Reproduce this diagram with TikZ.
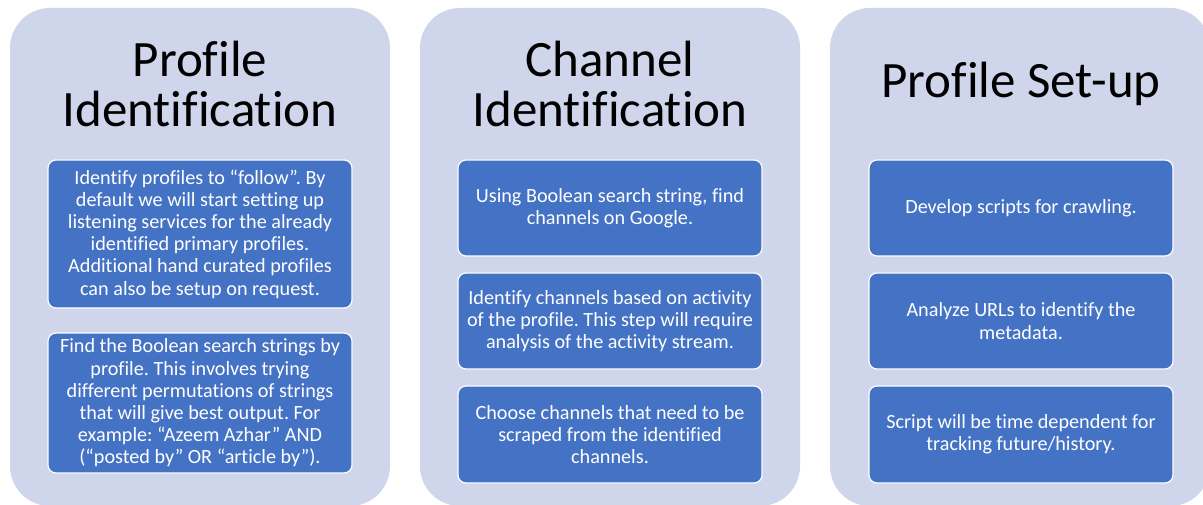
\documentclass[tikz,border=0pt]{standalone}
\usepackage{fontspec}
\setmainfont{Carlito}[Ligatures=NoCommon]
\frenchspacing
\definecolor{panelbg}{RGB}{207,213,234}
\definecolor{stepblue}{RGB}{68,114,196}

\begin{document}
\begin{tikzpicture}[x=1pt, y=-1pt,
    panel/.style={fill=panelbg, rounded corners=40pt, minimum width=380pt, minimum height=498pt, inner sep=0pt},
    heading/.style={align=center, font=\fontsize{51}{50}\selectfont, text=black},
    stepbox/.style={fill=stepblue, draw=white, line width=1.2pt, rounded corners=8pt, minimum width=304pt,
      text=white, align=center, font=\fontsize{20.2}{22.2}\selectfont, inner sep=0pt}]
  \useasboundingbox[fill=white] (0, 0) rectangle (1203, 505);

  % Panels
  \node[panel] (p1) at (200, 257) {};
  \node[panel] (p2) at (610, 257) {};
  \node[panel] (p3) at (1020, 257) {};

  % Headings
  \node[heading] (t1) at (200, 84) {Profile\\Identification};
  \node[heading] (t2) at (610, 84) {Channel\\Identification};
  \node[heading] (t3) at (1021, 84) {Profile Set-up};

  % Profile identification steps
  \node[stepbox, minimum height=148pt] (a1) at (200, 234)
    {Identify profiles to “follow”. By\\default we will start setting up\\listening services for the already\\identified primary profiles.\\Additional hand curated profiles\\can also be setup on request.};
  \node[stepbox, minimum height=140pt] (a2) at (200, 403)
    {Find the Boolean search strings by\\profile. This involves trying\\different permutations of strings\\that will give best output. For\\example: “Azeem Azhar” AND\\(“posted by” OR “article by”).};

  % Channel identification steps
  \node[stepbox, minimum height=96pt] (b1) at (610, 208)
    {Using Boolean search string, find\\channels on Google.};
  \node[stepbox, minimum height=96pt] (b2) at (610, 321)
    {Identify channels based on activity\\of the profile. This step will require\\analysis of the activity stream.};
  \node[stepbox, minimum height=97pt] (b3) at (610, 434.5)
    {Choose channels that need to be\\scraped from the identified\\channels.};

  % Profile set-up steps
  \node[stepbox, minimum height=96pt] (c1) at (1021, 208)
    {Develop scripts for crawling.};
  \node[stepbox, minimum height=96pt] (c2) at (1021, 321)
    {Analyze URLs to identify the\\metadata.};
  \node[stepbox, minimum height=97pt] (c3) at (1021, 434.5)
    {Script will be time dependent for\\tracking future/history.};
\end{tikzpicture}
\end{document}
